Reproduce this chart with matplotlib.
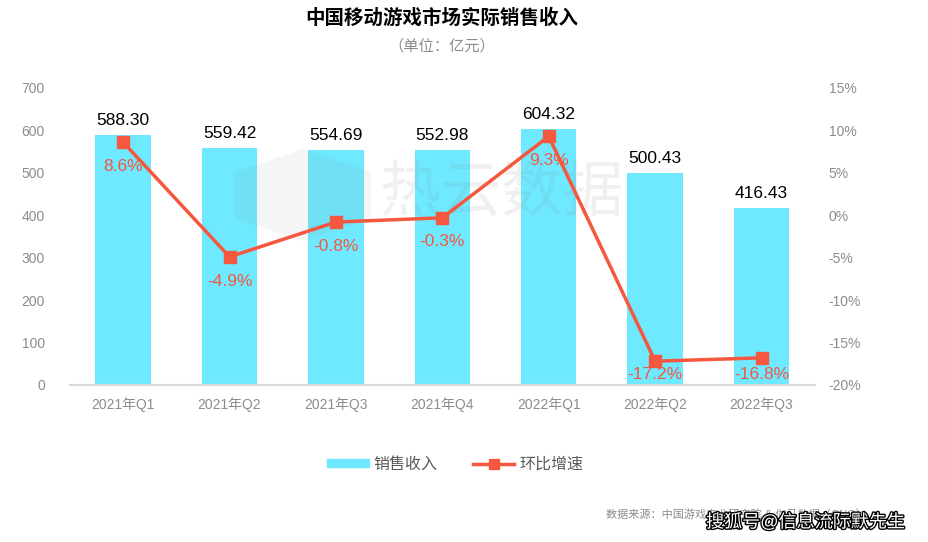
import numpy as np
import matplotlib.pyplot as plt
import matplotlib.patheffects as pe
from matplotlib.lines import Line2D
from matplotlib.patches import Patch, RegularPolygon

plt.rcParams['font.family'] = ['Liberation Sans', 'Noto Sans CJK SC', 'DejaVu Sans']

quarters = ['2021年Q1', '2021年Q2', '2021年Q3', '2021年Q4', '2022年Q1', '2022年Q2', '2022年Q3']
revenue = [588.30, 559.42, 554.69, 552.98, 604.32, 500.43, 416.43]
growth = [8.6, -4.9, -0.8, -0.3, 9.3, -17.2, -16.8]

bar_color = '#6EE9FF'
line_color = '#F5573F'
tick_color = '#8C8C8C'

fig = plt.figure(figsize=(9.29, 5.42), dpi=100)
ax = fig.add_axes([0.0753, 0.2897, 0.8017, 0.548])
x = np.arange(len(quarters))

ax.bar(x, revenue, width=0.52, color=bar_color, zorder=2)
ax.set_xlim(-0.5, len(quarters) - 0.5)
ax.set_ylim(0, 700)
ax.set_yticks(range(0, 701, 100))
ax.set_xticks(x)
ax.set_xticklabels(quarters)
for s in ['top', 'right', 'left']:
    ax.spines[s].set_visible(False)
ax.spines['bottom'].set_color('#D9D9D9')
ax.spines['bottom'].set_linewidth(1.5)
ax.tick_params(axis='both', length=0, colors=tick_color, labelsize=10)
ax.tick_params(axis='x', pad=9)
ax.tick_params(axis='y', pad=18)

for xi, v in zip(x, revenue):
    ax.annotate(f'{v:.2f}', (xi, v), xytext=(0, 7), textcoords='offset pixels',
                ha='center', va='bottom', fontsize=12.5, color='black')

# faint watermark over the bars, under the line
ax.text(0.54, 0.64, '热云数据', transform=fig.transFigure, fontsize=44, color='#888888',
        alpha=0.12, ha='center', va='center', zorder=5)
ax.add_patch(RegularPolygon((0.326, 0.64), numVertices=6, radius=0.085, orientation=0,
                            transform=fig.transFigure, facecolor='#888888', alpha=0.08,
                            edgecolor='none', zorder=5))

ax2 = ax.twinx()
ax2.plot(x, growth, color=line_color, lw=2.5, marker='s', markersize=9, zorder=3)
ax2.set_ylim(-20, 15)
ax2.set_yticks(range(-20, 16, 5))
ax2.set_yticklabels([f'{t}%' for t in range(-20, 16, 5)])
for s in ['top', 'right', 'left', 'bottom']:
    ax2.spines[s].set_visible(False)
ax2.tick_params(axis='y', length=0, colors=tick_color, labelsize=10, pad=10)

# labels sit below the markers, kept inside the plot near the bottom
for xi, g in zip(x, growth):
    ax2.text(xi, max(g - 2.85, -18.8), f'{g}%', ha='center', va='center',
             fontsize=12.5, color=line_color)

fig.text(0.476, 0.967, '中国移动游戏市场实际销售收入', fontsize=14, fontweight='bold',
         ha='center', va='center', color='black')
fig.text(0.476, 0.915, '（单位：亿元）', fontsize=11, ha='center', va='center', color=tick_color)

handles = [Patch(color=bar_color, label='销售收入'),
           Line2D([0], [0], color=line_color, lw=2.5, marker='s', markersize=7, label='环比增速')]
fig.legend(handles=handles, loc='center', bbox_to_anchor=(0.49, 0.143), ncol=2, frameon=False,
           fontsize=11.5, labelcolor='#595959', handlelength=2.6, handleheight=0.4,
           handletextpad=0.3, columnspacing=2.2)

fig.text(0.652, 0.05, '数据来源：中国游戏产业研究院 & 伽马数据（CNG）', fontsize=8,
         color='#8C8C8C', ha='left', va='center')
fig.text(0.76, 0.036, '搜狐号@信息流际默先生', fontsize=13, color='white', ha='left', va='center',
         path_effects=[pe.withStroke(linewidth=2, foreground='black')])

fig.savefig('out.png', dpi=100)
